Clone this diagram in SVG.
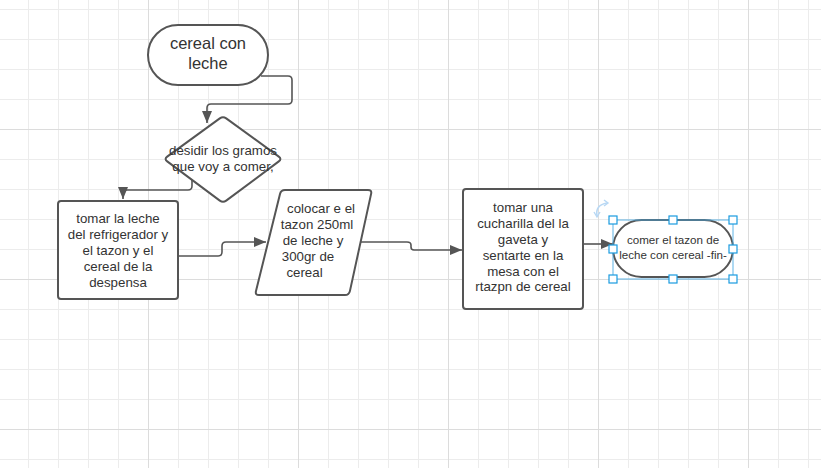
<svg xmlns="http://www.w3.org/2000/svg" width="821" height="468" viewBox="0 0 821 468">
<style>
  .shape{fill:#ffffff;stroke:#555555;stroke-width:2;}
  .lbl{font-family:"Liberation Sans",Arial,sans-serif;fill:#333333;text-anchor:middle;font-size:13.3px;}
  .conn{fill:none;stroke:#555555;stroke-width:1.6;}
  .handle{fill:#ffffff;stroke:#1a9be0;stroke-width:1.2;}
</style>
<defs>
  <pattern id="gmin" width="30" height="30" patternUnits="userSpaceOnUse" x="28" y="9">
    <path d="M0.5 0V30M0 0.5H30" stroke="#ececec" stroke-width="1" fill="none"/>
  </pattern>
  <pattern id="gmaj" width="150" height="150" patternUnits="userSpaceOnUse" x="148" y="129">
    <path d="M0.5 0V150M0 0.5H150" stroke="#dcdcdc" stroke-width="1" fill="none"/>
  </pattern>
  <marker id="arr" markerUnits="userSpaceOnUse" markerWidth="12" markerHeight="10" refX="12" refY="5" orient="auto">
    <path d="M0,0 L12,5 L0,10 Z" fill="#555555"/>
  </marker>
</defs>
<rect width="821" height="468" fill="#ffffff"/>
<rect width="821" height="468" fill="url(#gmin)"/>
<rect width="821" height="468" fill="url(#gmaj)"/>

<g id="connectors">
  <path class="conn" d="M261,76 H288 Q292,76 292,80 V100 Q292,104 288,104 H211 Q207,104 207,108 V123" marker-end="url(#arr)"/>
  <path class="conn" d="M192,180 V186 Q192,190 188,190 H127 Q123,190 123,194 V199" marker-end="url(#arr)"/>
  <path class="conn" d="M178,256 H218 Q222,256 222,252 V246 Q222,242 226,242 H266" marker-end="url(#arr)"/>
  <path class="conn" d="M358,242 H407 Q411,242 411,245 V247 Q411,250 414,250 H462" marker-end="url(#arr)"/>
  <path class="conn" d="M583,244 H613" marker-end="url(#arr)"/>
</g>

<g id="start">
  <rect class="shape" x="148" y="25" width="120" height="60" rx="30" ry="30"/>
  <text class="lbl" style="font-size:16.5px" x="208" y="49">cereal con</text>
  <text class="lbl" style="font-size:16.5px" x="208" y="69">leche</text>
</g>

<g id="decision">
  <path class="shape" d="M226.2,118.4 L278.8,156.6 Q282,159 278.8,161.4 L226.2,200.6 Q223,203 219.8,200.6 L167.2,161.4 Q164,159 167.2,156.6 L219.8,118.4 Q223,116 226.2,118.4 Z"/>
  <text class="lbl" x="223" y="155">desidir los gramos</text>
  <text class="lbl" x="223" y="171">que voy a comer,</text>
</g>

<g id="step1">
  <rect class="shape" x="58" y="201" width="120" height="98" rx="3"/>
  <text class="lbl" x="118" y="223">tomar la leche</text>
  <text class="lbl" x="118" y="239">del refrigerador y</text>
  <text class="lbl" x="118" y="255">el tazon y el</text>
  <text class="lbl" x="118" y="271">cereal de la</text>
  <text class="lbl" x="118" y="287">despensa</text>
</g>

<g id="step2">
  <path class="shape" d="M285,190 H368 Q372,190 371.1,193.9 L349.9,291.1 Q349,295 345,295 H259 Q255,295 256,291.1 L280,193.9 Q281,190 285,190 Z"/>
  <text class="lbl" x="321" y="213">colocar e el</text>
  <text class="lbl" x="317" y="229">tazon 250ml</text>
  <text class="lbl" x="313" y="245">de leche y</text>
  <text class="lbl" x="308" y="261">300gr de</text>
  <text class="lbl" x="304.5" y="277">cereal</text>
</g>

<g id="step3">
  <rect class="shape" x="463" y="189" width="120" height="120" rx="3"/>
  <text class="lbl" x="523" y="212">tomar una</text>
  <text class="lbl" x="523" y="228">cucharilla del la</text>
  <text class="lbl" x="523" y="243.5">gaveta y</text>
  <text class="lbl" x="523" y="259.5">sentarte en la</text>
  <text class="lbl" x="523" y="275.5">mesa con el</text>
  <text class="lbl" x="523" y="291">rtazpn de cereal</text>
</g>

<g id="end">
  <rect class="shape" x="613" y="220" width="120" height="57" rx="28.5" ry="28.5"/>
  <text class="lbl" style="font-size:11.6px" x="673" y="243.5">comer el tazon de</text>
  <text class="lbl" style="font-size:11.6px" x="673" y="258.5">leche con cereal -fin-</text>
  <rect x="613" y="220" width="120" height="59" fill="none" stroke="#4aa9e0" stroke-opacity="0.75" stroke-width="1.2"/>
  <path d="M597,216 Q595,205 607,203" fill="none" stroke="#b8d8f4" stroke-width="1.6"/>
  <path d="M594,212 L597,217 L600,212" fill="none" stroke="#b8d8f4" stroke-width="1.4"/>
  <path d="M604,200 L608,203 L604,206" fill="none" stroke="#b8d8f4" stroke-width="1.4"/>
  <rect class="handle" x="609" y="216" width="8" height="8"/>
  <rect class="handle" x="669" y="216" width="8" height="8"/>
  <rect class="handle" x="729" y="216" width="8" height="8"/>
  <rect class="handle" x="609" y="245" width="8" height="8"/>
  <rect class="handle" x="729" y="245" width="8" height="8"/>
  <rect class="handle" x="609" y="275" width="8" height="8"/>
  <rect class="handle" x="669" y="275" width="8" height="8"/>
  <rect class="handle" x="729" y="275" width="8" height="8"/>
</g>
</svg>
